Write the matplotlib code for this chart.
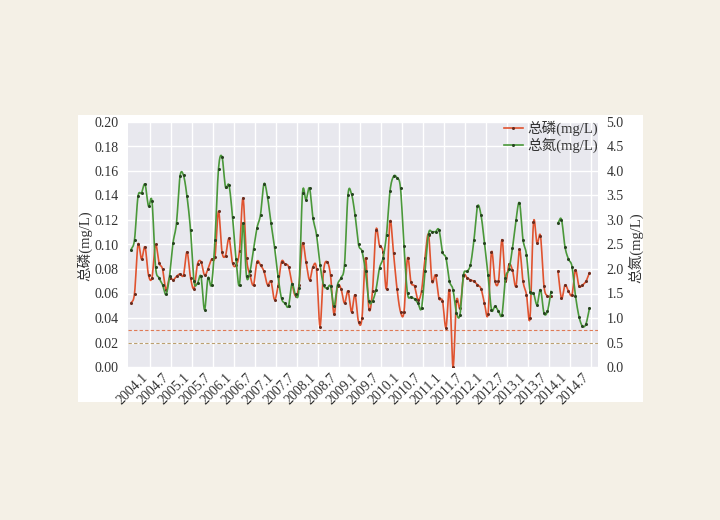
import numpy as np
import matplotlib
matplotlib.use("Agg")
import matplotlib.pyplot as plt
import matplotlib.transforms as mtransforms
from matplotlib.patches import Rectangle
from matplotlib.lines import Line2D

plt.rcParams['font.family'] = ['Liberation Serif', 'Noto Sans CJK SC']
plt.rcParams['axes.unicode_minus'] = False

# monthly values, 2004.1 - 2014.12 (one gap)
tp = [0.052, 0.060, 0.100, 0.088, 0.098, 0.075, 0.073, 0.100, 0.085, 0.080, 0.063, 0.073,
      0.071, 0.074, 0.076, 0.075, 0.094, 0.073, 0.064, 0.084, 0.086, 0.075,
      0.080, 0.088, 0.090, 0.127, 0.094, 0.091, 0.105, 0.085, 0.083, 0.095, 0.138, 0.089,
      0.075, 0.067, 0.086, 0.083, 0.078, 0.067, 0.070, 0.055, 0.066, 0.086,
      0.084, 0.082, 0.068, 0.058, 0.067, 0.101, 0.086, 0.071, 0.082, 0.080, 0.033, 0.078,
      0.086, 0.075, 0.043, 0.066, 0.064, 0.052, 0.062, 0.045, 0.059, 0.037, 0.040,
      0.089, 0.047, 0.062, 0.112, 0.099, 0.094, 0.064, 0.119, 0.093, 0.064, 0.045, 0.045,
      0.089, 0.069, 0.066, 0.055, 0.062, 0.089, 0.108, 0.070, 0.075, 0.056,
      0.054, 0.032, 0.063, 0.000, 0.054, 0.048, 0.074, 0.073, 0.071, 0.070, 0.067, 0.064,
      0.052, 0.043, 0.094, 0.070, 0.070, 0.104, 0.070, 0.084, 0.079, 0.066,
      0.096, 0.070, 0.059, 0.040, 0.118, 0.101, 0.107, 0.066, 0.058, 0.058, np.nan,
      0.078, 0.056, 0.067, 0.062, 0.059, 0.079, 0.066, 0.067, 0.070, 0.077]

tn = [2.39, 2.60, 3.48, 3.55, 3.73, 3.28, 3.38, 2.05, 1.82, 1.68, 1.48, 1.85,
      2.53, 2.94, 3.89, 3.91, 3.48, 2.80, 1.75, 1.71, 1.85, 1.17,
      1.82, 1.68, 2.60, 4.05, 4.29, 3.67, 3.71, 3.07, 2.20, 1.68, 2.94, 1.85,
      1.95, 2.40, 2.84, 3.11, 3.74, 3.47, 2.94, 2.45, 1.85, 1.40,
      1.30, 1.24, 1.70, 1.48, 1.62, 3.55, 3.41, 3.65, 3.04, 2.70, 2.09, 1.68,
      1.61, 1.65, 1.24, 1.68, 1.82, 2.09, 3.52, 3.53, 3.11, 2.50, 2.36,
      1.95, 1.34, 1.35, 1.58, 2.02, 2.22, 2.70, 3.59, 3.89, 3.86, 3.65, 2.46,
      1.50, 1.43, 1.39, 1.30, 1.20, 1.95, 2.72, 2.76, 2.76, 2.80,
      2.35, 2.22, 1.75, 1.58, 1.10, 1.07, 1.88, 1.95, 2.09, 2.60, 3.28, 3.10,
      2.53, 1.88, 1.17, 1.24, 1.14, 1.07, 1.82, 1.99, 2.43, 3.00,
      3.35, 2.60, 2.29, 1.54, 1.51, 1.27, 1.58, 1.10, 1.14, 1.54, np.nan,
      2.94, 3.01, 2.45, 2.20, 2.05, 1.45, 1.03, 0.83, 0.88, 1.20]

tick_labels = ['2004.1', '2004.7', '2005.1', '2005.7', '2006.1', '2006.7', '2007.1',
               '2007.7', '2008.1', '2008.7', '2009.1', '2009.7', '2010.1', '2010.7',
               '2011.1', '2011.7', '2012.1', '2012.7', '2013.1', '2013.7', '2014.1',
               '2014.7']

tp_limits = [0.03, 0.02]

red = '#e0532f'
green = '#4a983a'


def smooth(x, y, n=8):
    # Catmull-Rom curve through the points, broken at gaps
    x = np.asarray(x, float)
    y = np.asarray(y, float)
    xs, ys = [], []
    ok = ~np.isnan(y)
    idx = np.where(ok)[0]
    runs = np.split(idx, np.where(np.diff(idx) > 1)[0] + 1)
    for r in runs:
        px, py = x[r], y[r]
        if len(r) < 3:
            xs += list(px) + [np.nan]
            ys += list(py) + [np.nan]
            continue
        px = np.r_[2 * px[0] - px[1], px, 2 * px[-1] - px[-2]]
        py = np.r_[2 * py[0] - py[1], py, 2 * py[-1] - py[-2]]
        t = np.linspace(0, 1, n, endpoint=False)
        for k in range(1, len(px) - 2):
            for arr, out in ((px, xs), (py, ys)):
                p0, p1, p2, p3 = arr[k - 1:k + 3]
                out.extend(0.5 * (2 * p1 + (-p0 + p2) * t
                                  + (2 * p0 - 5 * p1 + 4 * p2 - p3) * t ** 2
                                  + (-p0 + 3 * p1 - 3 * p2 + p3) * t ** 3))
        xs += [px[-2], np.nan]
        ys += [py[-2], np.nan]
    return np.array(xs), np.array(ys)


fig = plt.figure(figsize=(7.2, 5.2), dpi=100, facecolor='#f4f0e6')
fig.patches.append(Rectangle((78 / 720, 1 - 402 / 520), 565 / 720, 287 / 520,
                             transform=fig.transFigure, facecolor='white',
                             edgecolor='none', zorder=-10))

ax = fig.add_axes([128 / 720, 1 - 367 / 520, 470 / 720, 245 / 520])
ax.set_facecolor('#e8e8ee')
ax2 = ax.twinx()

months = np.arange(len(tp))

sx, sy = smooth(months, tp)
ax.plot(sx, sy, color=red, lw=1.2, zorder=3)
ax.plot(months, tp, ls='none', marker='o', ms=2.2, mfc='#6a2c1e', mec='none', zorder=4)
sx, sy = smooth(months, tn)
ax2.plot(sx, sy, color=green, lw=1.2, zorder=3)
ax2.plot(months, tn, ls='none', marker='o', ms=2.2, mfc='#26441f', mec='none', zorder=4)
ax.axhline(tp_limits[0], color='#e07a55', lw=0.8, ls=(0, (3, 2)), zorder=2)
ax.axhline(tp_limits[1], color='#bba070', lw=0.8, ls=(0, (3, 2)), zorder=2)

ax.set_xlim(-0.86, 133.43)
ax.set_ylim(0, 0.2)
ax2.set_ylim(0, 5.0)
ax.set_yticks(np.arange(0, 0.201, 0.02))
ax.set_yticklabels([f'{v:.2f}' for v in np.arange(0, 0.201, 0.02)])
ax2.set_yticks(np.arange(0, 5.01, 0.5))
ax2.set_yticklabels([f'{v:.1f}' for v in np.arange(0, 5.01, 0.5)])

ax.set_xticks(np.arange(len(tick_labels)) * 6 + 5.43)
ax.set_xticklabels(tick_labels, rotation=45, ha='right')
shift = mtransforms.ScaledTranslation(-6 / 100, 0, fig.dpi_scale_trans)
for lab in ax.get_xticklabels():
    lab.set_transform(lab.get_transform() + shift)

ax.grid(True, color='white', lw=1.0)
ax.set_axisbelow(True)
ax2.grid(False)
for a in (ax, ax2):
    for s in a.spines.values():
        s.set_visible(False)
    a.tick_params(length=0, labelsize=10, colors='#333333')
ax.tick_params(axis='y', pad=7)
ax.tick_params(axis='x', pad=3)
ax2.tick_params(axis='y', pad=6)

fig.text(85 / 720, 1 - 246 / 520, '总磷(mg/L)', rotation=90, ha='center',
         va='center', fontsize=10.5, color='#333333')
fig.text(636 / 720, 1 - 248 / 520, '总氮(mg/L)', rotation=90, ha='center',
         va='center', fontsize=10.5, color='#333333')

handles = [Line2D([], [], color=red, lw=1.2, marker='o', ms=2.2, mfc='#6a2c1e', mec='none'),
           Line2D([], [], color=green, lw=1.2, marker='o', ms=2.2, mfc='#26441f', mec='none')]
leg = ax2.legend(handles, ['总磷(mg/L)', '总氮(mg/L)'], loc='upper right',
                 bbox_to_anchor=(1.015, 1.035), frameon=False, fontsize=10.5,
                 handlelength=1.3, handletextpad=0.3, labelspacing=0.1,
                 borderaxespad=0.1)
for t in leg.get_texts():
    t.set_color('#333333')

fig.savefig('out.png', dpi=100, facecolor=fig.get_facecolor())
